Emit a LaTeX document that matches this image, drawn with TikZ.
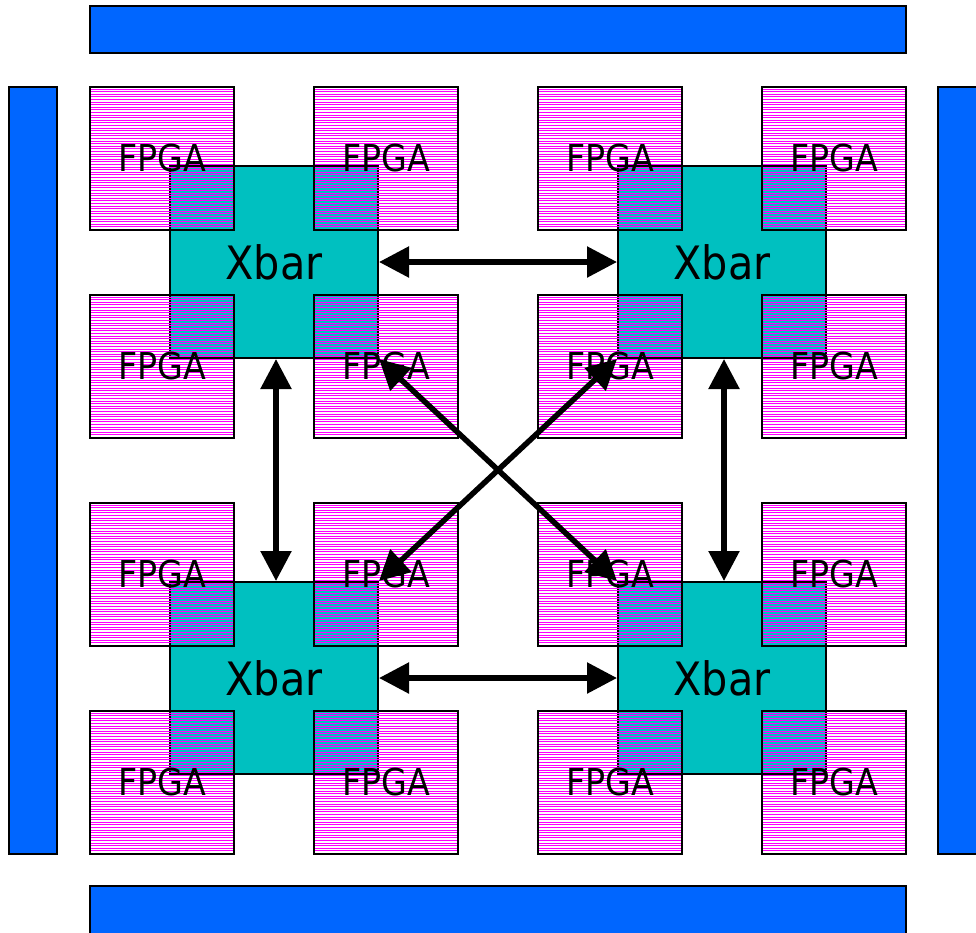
\documentclass[tikz,border=0pt]{standalone}
\usepackage{fontspec}
\newfontfamily\chipfont{DejaVu Sans Condensed}
\usetikzlibrary{arrows.meta}
\definecolor{cblue}{HTML}{0066FF}
\definecolor{cteal}{HTML}{00C0C0}
\definecolor{cmagenta}{HTML}{FF00FF}
\tikzset{
  every picture/.style={line width=2pt},
  bus/.style={draw=black, fill=cblue, line width=2.2pt},
  xbar/.style={draw=black, fill=cteal, minimum width=208pt, minimum height=192pt, inner sep=0pt, font=\chipfont\fontsize{46}{46}\selectfont},
  hatch/.style={path picture={
    \foreach \k in {1,...,54}
      \draw[cmagenta, line width=1.1pt] ([yshift=-\k*2.6pt]path picture bounding box.north west) -- ([yshift=-\k*2.6pt]path picture bounding box.north east);
  }},
  fpga/.style={draw=black, hatch, minimum width=144pt, minimum height=143pt, inner sep=0pt, font=\chipfont\fontsize{37}{37}\selectfont},
  link/.style={{Triangle[length=30pt, width=30pt]}-{Triangle[length=30pt, width=30pt]}, draw=black, line width=5.5pt},
}

\begin{document}
\begin{tikzpicture}[x=1pt, y=-1pt]
  \useasboundingbox (0,0) rectangle (976,932);
  % buses round the board
  \draw[bus] (90,6) rectangle (906,53);
  \draw[bus] (90,886) rectangle (906,945);
  \draw[bus] (9,87) rectangle (57,854);
  \draw[bus] (938,87) rectangle (990,854);
  % crossbars, then the four FPGAs on each
  \foreach \x/\y [count=\i] in {274/262, 722/262, 274/678, 722/678}
    \node[xbar] (xb\i) at (\x,\y) {Xbar};
  \foreach \i in {1,...,4} {
    \node[fpga] (f\i a) at ([xshift=-112pt, yshift=104pt]xb\i.center) {FPGA};
    \node[fpga] (f\i b) at ([xshift=112pt, yshift=104pt]xb\i.center) {FPGA};
    \node[fpga] (f\i c) at ([xshift=-112pt, yshift=-104pt]xb\i.center) {FPGA};
    \node[fpga] (f\i d) at ([xshift=112pt, yshift=-104pt]xb\i.center) {FPGA};
  }
  % links between crossbars
  \draw[link] (xb1.east) -- (xb2.west);
  \draw[link] (xb3.east) -- (xb4.west);
  \draw[link] ([xshift=2pt]xb1.south) -- ([xshift=2pt]xb3.north);
  \draw[link] ([xshift=2pt]xb2.south) -- ([xshift=2pt]xb4.north);
  \draw[link] (xb1.south east) -- (xb4.north west);
  \draw[link] (xb2.south west) -- (xb3.north east);
\end{tikzpicture}
\end{document}
